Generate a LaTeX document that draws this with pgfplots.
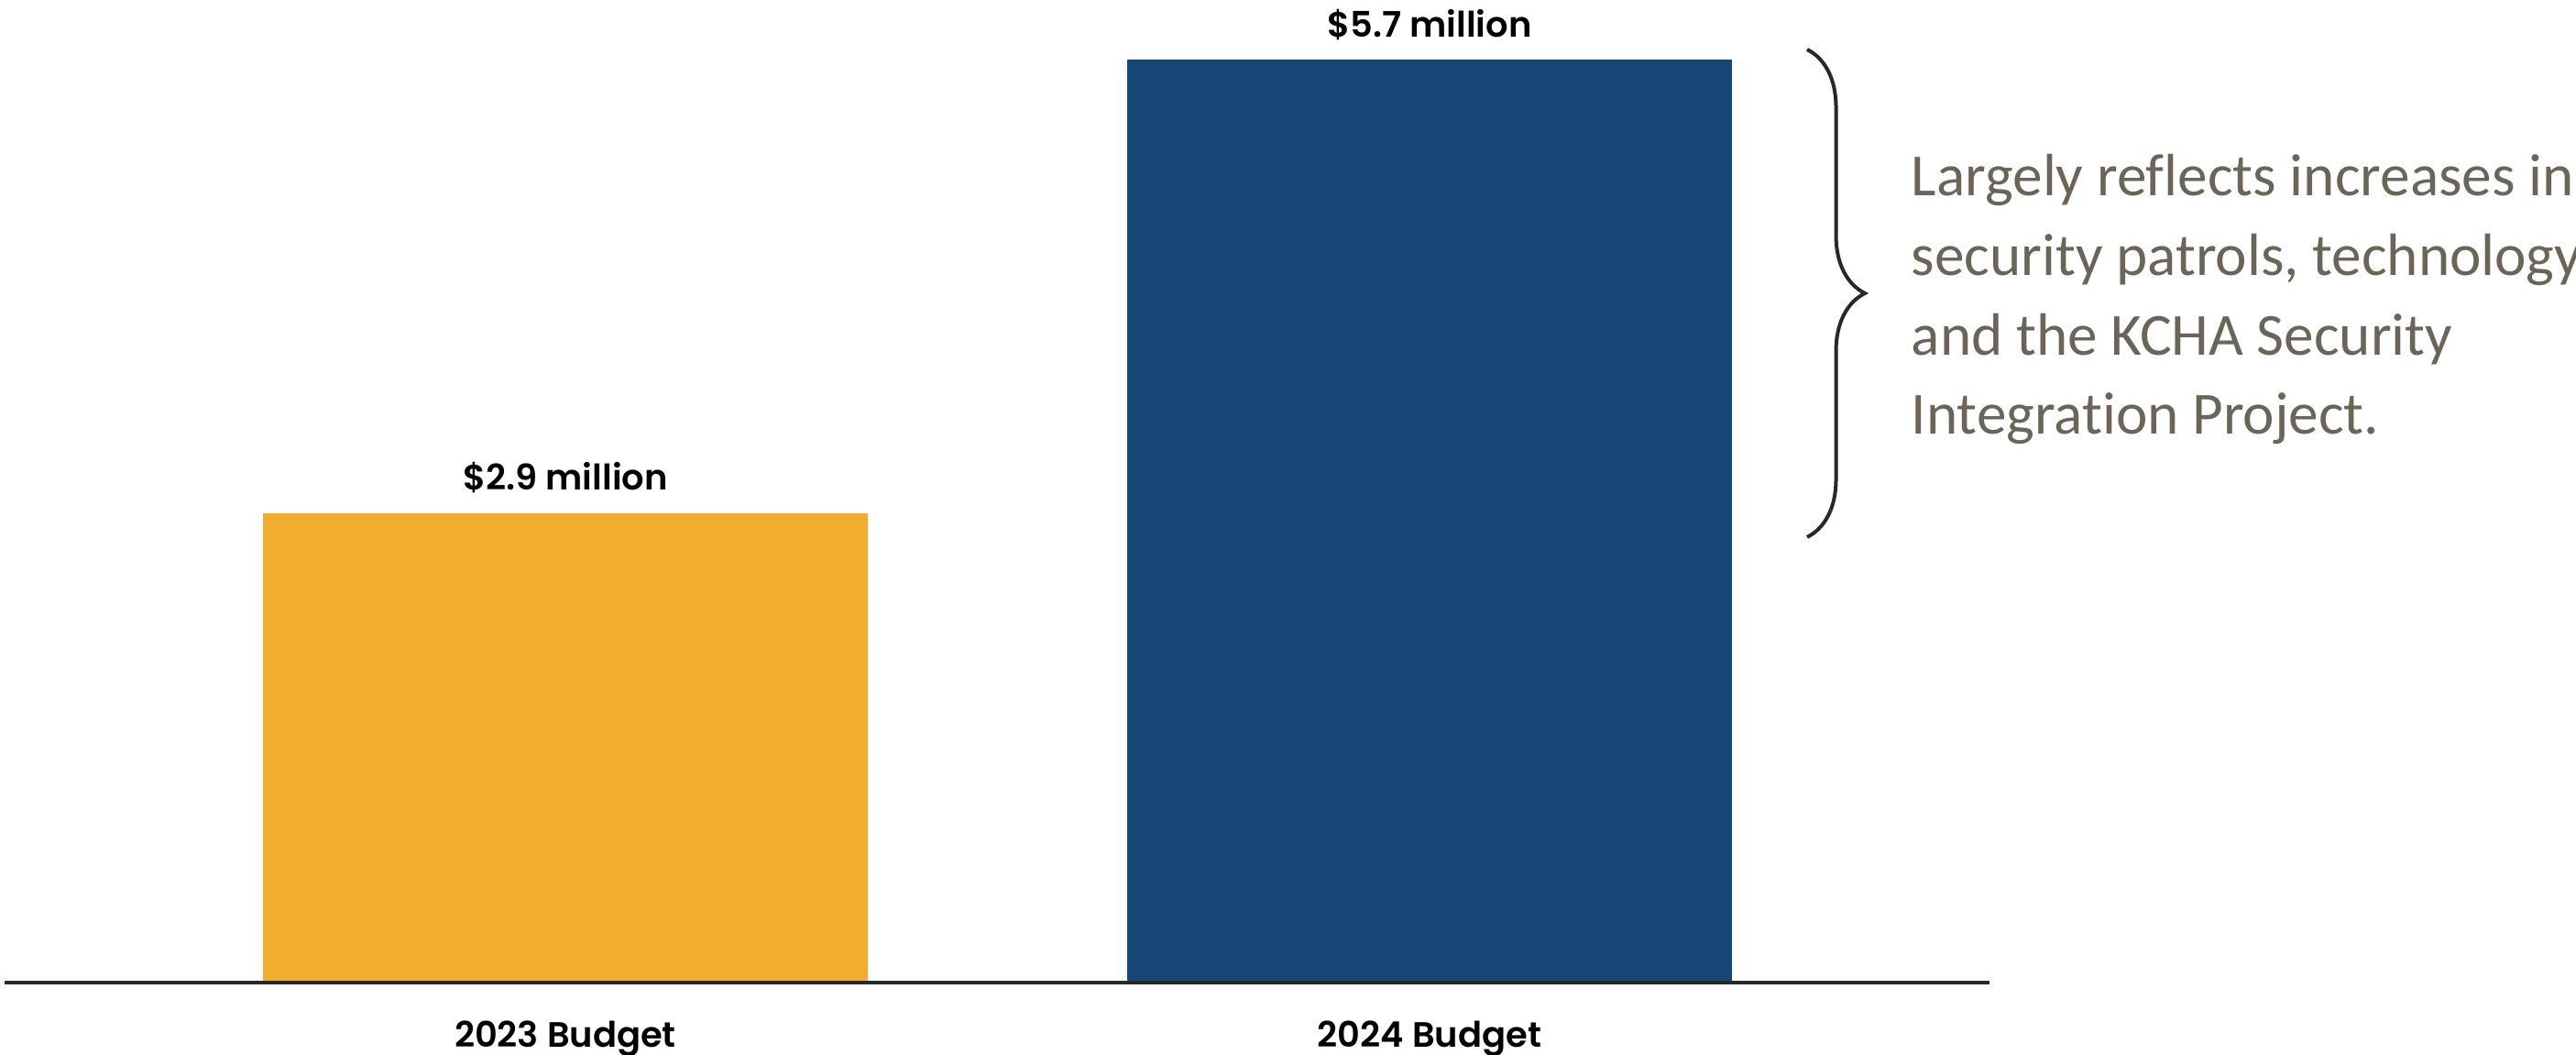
\documentclass[border=0pt]{standalone}
\usepackage{pgfplots}
\pgfplotsset{compat=1.18}
\usepackage{fontspec}
\setmainfont{Carlito}[Ligatures=NoCommon]
\newfontfamily\labfont{Poppins}[UprightFont={* SemiBold}]
\usetikzlibrary{decorations.pathreplacing}
\definecolor{barorange}{RGB}{242,173,46}
\definecolor{barblue}{RGB}{21,70,118}
\definecolor{notegray}{RGB}{107,101,88}
\definecolor{axisgray}{RGB}{40,40,40}
\begin{document}
\begin{tikzpicture}
\path[use as bounding box] (0,0) rectangle (702.75bp,287.75bp);
\begin{axis}[
  at={(1.25bp,19.75bp)}, anchor=south west,
  scale only axis, width=541.5bp, height=268bp,
  xmin=-0.649, xmax=1.648, ymin=0, ymax=6.067,
  axis x line=bottom, axis y line=none,
  axis line style={-, line width=1bp, color=axisgray},
  axis on top,
  xtick={0,1}, xticklabels={2023 Budget, 2024 Budget},
  major tick length=0pt, ytick=\empty,
  xticklabel style={anchor=base, yshift=-17.5bp, font=\labfont\fontsize{9.6bp}{11bp}\selectfont, text=black},
  ybar, bar width=0.7,
  nodes near coords,
  nodes near coords style={anchor=base, yshift=6.2bp, font=\labfont\fontsize{9.6bp}{11bp}\selectfont, text=black},
]
\addplot[draw=none, fill=barorange, bar shift=0pt,
  point meta=explicit symbolic] coordinates {(0,2.9) [\$2.9 million]};
\addplot[draw=none, fill=barblue, bar shift=0pt,
  point meta=explicit symbolic] coordinates {(1,5.7) [\$5.7 million]};
\end{axis}
\draw[axisgray, line width=1bp, decorate, decoration={brace, amplitude=15.75bp}]
  (493bp,274.25bp) -- (493bp,141.25bp);
\begin{scope}[every node/.style={anchor=base west, inner sep=0pt, text=notegray, font=\fontsize{16.3bp}{21.7bp}\selectfont}]
\node at (521.25bp,234.25bp) {Largely reflects increases in};
\node at (521.25bp,212.6bp) {security patrols, technology};
\node at (521.25bp,190.9bp) {and the KCHA Security};
\node at (521.25bp,169.25bp) {Integration Project.};
\end{scope}
\end{tikzpicture}
\end{document}
